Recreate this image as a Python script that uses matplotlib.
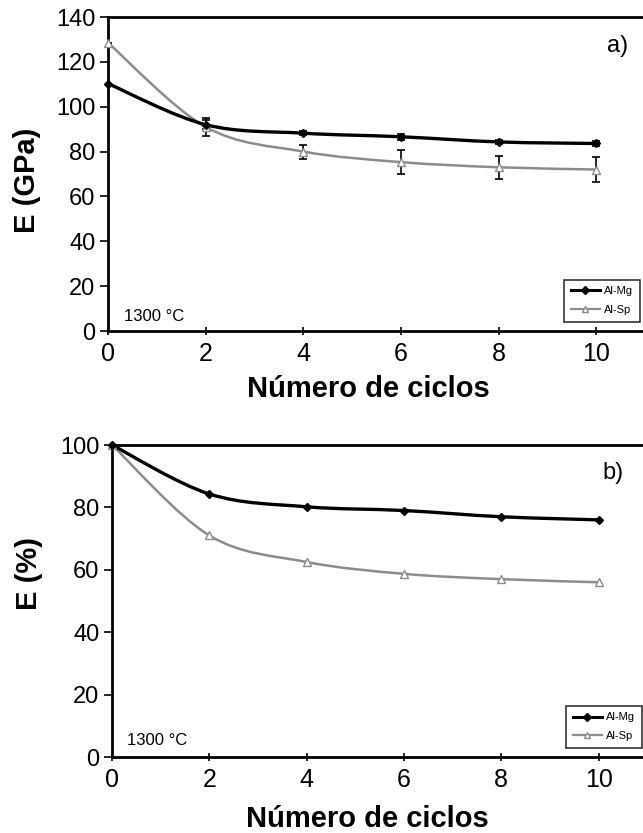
import numpy as np
import matplotlib
matplotlib.use('Agg')
import matplotlib.pyplot as plt
from matplotlib.path import Path
from matplotlib.patches import PathPatch
from matplotlib.lines import Line2D

plt.rcParams['font.family'] = ['Liberation Sans', 'DejaVu Sans']

# data
cycles = [0, 2, 4, 6, 8, 10]

# a) Young's modulus (GPa)
e_gpa_mg = [110.3, 92.0, 88.2, 86.6, 84.3, 83.6]
e_gpa_mg_err = [0, 2.0, 1.0, 1.3, 1.0, 1.0]
e_gpa_sp = [128.5, 91.0, 80.0, 75.3, 73.0, 72.0]
e_gpa_sp_err = [0, 3.9, 3.1, 5.2, 5.1, 5.7]

# b) retained modulus (%)
e_pct_mg = [100, 84.3, 80.2, 79.0, 77.0, 76.0]
e_pct_sp = [100, 71.0, 62.5, 58.7, 57.0, 56.0]

series_names = ['Al-Mg', 'Al-Sp']
panel_tags = ['a)', 'b)']
temp_label = '1300 °C'

MG_COLOR = 'black'
SP_COLOR = '#8c8c8c'


def smooth_path(x, y):
    # Excel-style smoothed line: cubic bezier through each data point
    pts = np.column_stack([x, y]).astype(float)
    n = len(pts)
    verts = [pts[0]]
    codes = [Path.MOVETO]
    for i in range(n - 1):
        p0 = pts[i - 1] if i > 0 else pts[i]
        p1 = pts[i]
        p2 = pts[i + 1]
        p3 = pts[i + 2] if i + 2 < n else pts[i + 1]
        verts += [p1 + (p2 - p0) / 6.0, p2 - (p3 - p1) / 6.0, p2]
        codes += [Path.CURVE4] * 3
    return Path(verts, codes)


def draw_series(ax, x, y, color, lw, marker, ms, mfc):
    ax.add_patch(PathPatch(smooth_path(x, y), fill=False, edgecolor=color,
                           linewidth=lw, zorder=3, capstyle='round'))
    ax.plot(x, y, ls='none', marker=marker, ms=ms, mfc=mfc, mec=color,
            mew=1.0, zorder=4, clip_on=False)


def style_axes(ax, xmax, ymax, yticks):
    ax.set_xlim(0, xmax)
    ax.set_ylim(0, ymax)
    ax.set_xticks(cycles)
    ax.set_yticks(yticks)
    ax.spines['right'].set_visible(False)
    for s in ['left', 'bottom', 'top']:
        ax.spines[s].set_linewidth(2)
    ax.tick_params(axis='y', direction='out', length=6, width=1.2, labelsize=17, pad=3)
    ax.tick_params(axis='x', direction='inout', length=6, width=1.2, labelsize=18, pad=5)


def legend(ax, anchor):
    handles = [
        Line2D([], [], color=MG_COLOR, lw=2.2, marker='D', ms=4, mfc=MG_COLOR, mec=MG_COLOR),
        Line2D([], [], color=SP_COLOR, lw=1.6, marker='^', ms=5, mfc='white', mec=SP_COLOR),
    ]
    leg = ax.legend(handles, series_names, loc='lower right', bbox_to_anchor=anchor,
                    fontsize=8, frameon=True, fancybox=False, handlelength=2.6,
                    handletextpad=0.4, borderpad=0.6, labelspacing=0.8,
                    borderaxespad=0)
    leg.get_frame().set_edgecolor('black')
    leg.get_frame().set_linewidth(1.2)


fig = plt.figure(figsize=(6.43, 8.33), dpi=100)

# ---- panel a ----
ax1 = fig.add_axes([108 / 643, 1 - 331 / 833, 535 / 643, 314 / 833])
ax1.errorbar(cycles, e_gpa_mg, yerr=e_gpa_mg_err, fmt='none', ecolor='black',
             elinewidth=1.2, capsize=3, capthick=1.2, zorder=2)
ax1.errorbar(cycles, e_gpa_sp, yerr=e_gpa_sp_err, fmt='none', ecolor='black',
             elinewidth=1.2, capsize=3, capthick=1.2, zorder=2)
draw_series(ax1, cycles, e_gpa_sp, SP_COLOR, 1.8, '^', 6, 'white')
draw_series(ax1, cycles, e_gpa_mg, MG_COLOR, 2.4, 'D', 4, MG_COLOR)
style_axes(ax1, 10.96, 140, np.arange(0, 141, 20))
ax1.set_xlabel('Número de ciclos', fontsize=21, fontweight='bold')
ax1.xaxis.set_label_coords(0.486, -0.14)
ax1.set_ylabel('E (GPa)', fontsize=21, fontweight='bold')
ax1.yaxis.set_label_coords(-0.125, 0.48)
ax1.text(0.972, 0.943, panel_tags[0], transform=ax1.transAxes, ha='right', va='top', fontsize=17)
ax1.text(0.029, 0.022, temp_label, transform=ax1.transAxes, ha='left', va='bottom', fontsize=12)
legend(ax1, (0.994, 0.029))

# ---- panel b ----
ax2 = fig.add_axes([112 / 643, 1 - 757 / 833, 531 / 643, 312 / 833])
draw_series(ax2, cycles, e_pct_sp, SP_COLOR, 1.8, '^', 6, 'white')
draw_series(ax2, cycles, e_pct_mg, MG_COLOR, 2.4, 'D', 4, MG_COLOR)
style_axes(ax2, 10.91, 100, np.arange(0, 101, 20))
ax2.set_xlabel('Número de ciclos', fontsize=21, fontweight='bold')
ax2.xaxis.set_label_coords(0.48, -0.155)
ax2.set_ylabel('E (%)', fontsize=21, fontweight='bold')
ax2.yaxis.set_label_coords(-0.13, 0.587)
ax2.text(0.964, 0.946, panel_tags[1], transform=ax2.transAxes, ha='right', va='top', fontsize=17)
ax2.text(0.028, 0.028, temp_label, transform=ax2.transAxes, ha='left', va='bottom', fontsize=12)
legend(ax2, (0.998, 0.029))

fig.savefig('out.png', dpi=100, facecolor='white')
